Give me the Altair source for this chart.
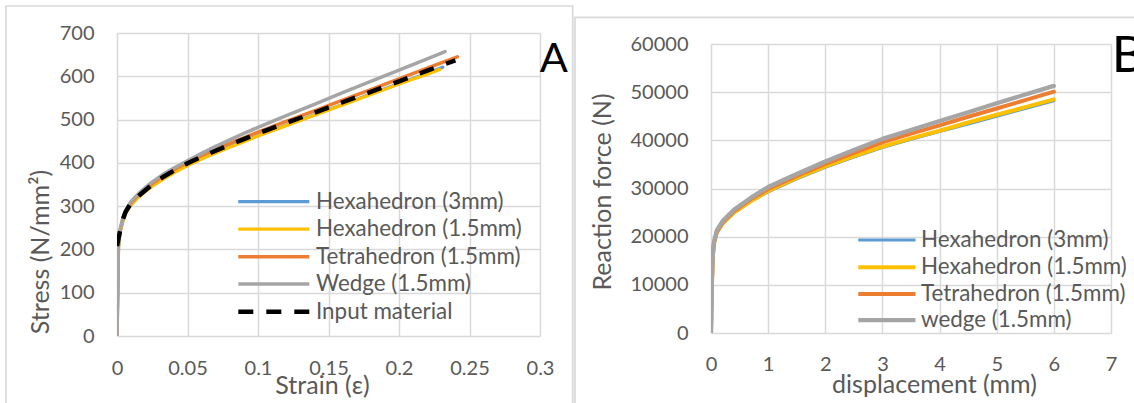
import altair as alt
import pandas as pd

FONT = "Lato"
GREY_TXT = "#595959"
GRID = "#d9d9d9"

# ---------------- Panel A: stress-strain curves ----------------
strain_hex3 = [0, 0.001, 0.002, 0.004, 0.006, 0.0095, 0.014, 0.018, 0.025, 0.033, 0.042, 0.05,
               0.06, 0.07, 0.08, 0.09, 0.1, 0.12, 0.14, 0.16, 0.18, 0.2, 0.22, 0.231]
stress_hex3 = [0, 206, 238, 265, 283, 302, 318, 329, 347, 364, 381, 395,
               410, 424, 437, 450, 463, 487, 511, 535, 559, 583, 607, 621]

strain_hex15 = [0, 0.001, 0.002, 0.004, 0.006, 0.0095, 0.014, 0.018, 0.025, 0.033, 0.042, 0.05,
                0.06, 0.07, 0.08, 0.09, 0.1, 0.12, 0.14, 0.16, 0.18, 0.2, 0.22, 0.229]
stress_hex15 = [0, 205, 237, 264, 282, 301, 317, 328, 346, 363, 380, 394,
                409, 423, 436, 449, 462, 486, 510, 534, 558, 582, 605, 616]

strain_tet15 = [0, 0.001, 0.002, 0.004, 0.006, 0.0095, 0.014, 0.018, 0.025, 0.033, 0.042, 0.05,
                0.06, 0.07, 0.08, 0.09, 0.1, 0.12, 0.14, 0.16, 0.18, 0.2, 0.22, 0.2414]
stress_tet15 = [0, 207, 241, 269, 287, 306, 322, 333, 352, 370, 387, 401,
                417, 431, 445, 458, 471, 496, 520, 545, 569, 594, 619, 645]

strain_wedge = [0, 0.001, 0.002, 0.004, 0.006, 0.0095, 0.014, 0.018, 0.025, 0.033, 0.042, 0.05,
                0.06, 0.07, 0.08, 0.09, 0.1, 0.12, 0.14, 0.16, 0.18, 0.2, 0.22, 0.2327]
stress_wedge = [0, 208, 243, 271, 289, 309, 325, 337, 356, 374, 391, 405,
                422, 438, 453, 468, 482, 509, 535, 562, 588, 614, 640, 657]

strain_input = [0, 0.002, 0.004, 0.006, 0.0095, 0.014, 0.018, 0.025, 0.033, 0.042, 0.05,
                0.06, 0.07, 0.08, 0.09, 0.1, 0.12, 0.14, 0.16, 0.18, 0.2, 0.22, 0.24]
stress_input = [208, 240, 268, 286, 305, 320, 331, 350, 368, 385, 399,
                414, 428, 442, 455, 468, 492, 516, 540, 564, 588, 613, 637]

names_a = ["Hexahedron (3mm)", "Hexahedron (1.5mm)", "Tetrahedron (1.5mm)",
           "Wedge (1.5mm)", "Input material"]
colors_a = ["#5B9BD5", "#FFC000", "#ED7D31", "#A5A5A5", "#000000"]
widths_a = [3.25, 3.25, 3.5, 3.5, 4.5]
dashes_a = [None, None, None, None, [15, 13]]
xs_a = [strain_hex3, strain_hex15, strain_tet15, strain_wedge, strain_input]
ys_a = [stress_hex3, stress_hex15, stress_tet15, stress_wedge, stress_input]

xticks_a = [0, 0.05, 0.1, 0.15, 0.2, 0.25, 0.3]
yticks_a = [0, 100, 200, 300, 400, 500, 600, 700]

# ---------------- Panel B: force-displacement curves ----------------
disp = [0, 0.015, 0.03, 0.05, 0.1, 0.2, 0.4, 0.7, 1.0, 1.5, 2.0, 2.5, 3.0, 3.5, 4.0, 4.5, 5.0, 5.5, 6.0]
force_hex3 = [0, 10000, 15500, 18300, 20700, 22600, 24900, 27300, 29300, 32000, 34400,
              36500, 38500, 40200, 41800, 43400, 45000, 46600, 48200]
force_hex15 = [0, 10100, 15600, 18400, 20800, 22700, 25000, 27400, 29500, 32200, 34600,
               36700, 38700, 40400, 42000, 43700, 45300, 46900, 48500]
force_tet15 = [0, 10200, 15800, 18600, 21000, 22900, 25300, 27800, 29900, 32600, 35100,
               37400, 39600, 41400, 43100, 44900, 46600, 48350, 50100]
force_wedge = [0, 10300, 16000, 18800, 21300, 23200, 25600, 28100, 30300, 33000, 35600,
               38000, 40300, 42150, 44000, 45850, 47700, 49500, 51300]

names_b = ["Hexahedron (3mm)", "Hexahedron (1.5mm)", "Tetrahedron (1.5mm)", "wedge (1.5mm)"]
colors_b = ["#5B9BD5", "#FFC000", "#ED7D31", "#A5A5A5"]
widths_b = [3.0, 4.0, 4.0, 4.25]
ys_b = [force_hex3, force_hex15, force_tet15, force_wedge]

xticks_b = [0, 1, 2, 3, 4, 5, 6, 7]
yticks_b = [0, 10000, 20000, 30000, 40000, 50000, 60000]

LEGEND_SIZE = 22.4
TITLE_SIZE = 25


def series_layer(x, y, color, width, dash, xenc, yenc):
    df = pd.DataFrame({"x": x, "y": y})
    kw = dict(color=color, strokeWidth=width, clip=True)
    if dash:
        kw.update(strokeDash=dash, strokeCap="butt")
    else:
        kw.update(strokeCap="round", strokeJoin="round")
    return alt.Chart(df).mark_line(**kw).encode(x=xenc, y=yenc)


def legend_layers(names, colors, widths, dashes, x0, x1, xt, rows):
    out = []
    for n, c, w, d, ry in zip(names, colors, widths, dashes, rows):
        one = alt.Chart(pd.DataFrame({"name": [n]}))
        kw = dict(color=c, strokeWidth=w)
        if d:
            kw.update(strokeDash=d, strokeCap="butt")
        out.append(one.mark_rule(**kw).encode(
            x=alt.value(x0), x2=alt.value(x1), y=alt.value(ry)))
        out.append(one.mark_text(align="left", baseline="middle", font=FONT,
                                 fontSize=LEGEND_SIZE, color=GREY_TXT).encode(
            x=alt.value(xt), y=alt.value(ry), text="name:N"))
    return out


def frame(x0, x1, y0, y1):
    return alt.Chart(pd.DataFrame({"f": [0]})).mark_rect(
        fillOpacity=0, stroke=GRID, strokeWidth=1.7).encode(
        x=alt.value(x0), x2=alt.value(x1), y=alt.value(y0), y2=alt.value(y1))


def corner_label(txt, x, y, size, align):
    return alt.Chart(pd.DataFrame({"t": [txt]})).mark_text(
        font=FONT, fontSize=size, color="black", align=align, baseline="alphabetic").encode(
        x=alt.value(x), y=alt.value(y), text="t:N")


# ---- panel A ----
xa = alt.X("x:Q", scale=alt.Scale(domain=[0, 0.3], nice=False),
           axis=alt.Axis(values=xticks_a, format="~g", title="Strain (ε)",
                         labelPadding=22, titleX=205, titleY=57.5,
                         titleBaseline="alphabetic", titleAlign="center"))
ya = alt.Y("y:Q", scale=alt.Scale(domain=[0, 700], nice=False),
           axis=alt.Axis(values=yticks_a, format="d", title="Stress (N/mm²)",
                         labelPadding=23, titleX=-68.5, titleY=218.5,
                         titleBaseline="alphabetic", titleAlign="center", titleAngle=270))

layers_a = [frame(-111, 455.7, -27, 420)]
for x, y, c, w, d in zip(xs_a, ys_a, colors_a, widths_a, dashes_a):
    layers_a.append(series_layer(x, y, c, w, d, xa, ya))
layers_a += legend_layers(names_a, colors_a, widths_a, dashes_a, 121.3, 192.3, 199,
                          [168.7, 196, 223.7, 251, 278.7])
layers_a.append(corner_label("A", 436.8, 39.3, 41.5, "center"))
panel_a = alt.layer(*layers_a).properties(width=423, height=303)

# ---- panel B ----
xb = alt.X("x:Q", scale=alt.Scale(domain=[0, 7], nice=False),
           axis=alt.Axis(values=xticks_b, format="d", title="displacement (mm)",
                         labelPadding=21, titleX=223, titleY=59,
                         titleBaseline="alphabetic", titleAlign="center"))
yb = alt.Y("y:Q", scale=alt.Scale(domain=[0, 60000], nice=False),
           axis=alt.Axis(values=yticks_b, format="d", title="Reaction force (N)",
                         labelPadding=23, titleX=-101, titleY=147.5,
                         titleBaseline="alphabetic", titleAlign="center", titleAngle=270))

layers_b = [frame(-136, 500, -26.7, 420)]
for y, c, w in zip(ys_b, colors_b, widths_b):
    layers_b.append(series_layer(disp, y, c, w, None, xb, yb))
layers_b += legend_layers(names_b, colors_b, widths_b, [None] * 4, 147.3, 204.5, 210,
                          [196, 223.3, 250, 276])
layers_b.append(corner_label("B", 400.7, 27.7, 50.7, "left"))
panel_b = alt.layer(*layers_b).properties(width=400, height=289)

# small invisible spacer to drop panel B slightly lower than panel A
spacer = alt.Chart(pd.DataFrame({"v": [0]})).mark_point(opacity=0).encode(
    x=alt.X("v:Q", axis=None), y=alt.Y("v:Q", axis=None)).properties(width=1, height=1)
right = alt.vconcat(spacer, panel_b, spacing=10, bounds="flush")

chart = alt.hconcat(panel_a, right, spacing=171, bounds="flush").properties(
    padding={"left": 117, "top": 33, "right": 1017, "bottom": 370},
    autosize=alt.AutoSizeParams(type="none"),
    background="white",
).configure_view(strokeWidth=0).configure_axis(
    labelFont=FONT, titleFont=FONT, labelFontSize=20, titleFontSize=TITLE_SIZE,
    labelColor=GREY_TXT, titleColor=GREY_TXT, titleFontWeight="normal",
    grid=True, gridColor=GRID, gridWidth=1.5, domain=False, ticks=False, tickSize=0,
    labelFlush=False, labelOverlap=False, labelBaseline="middle",
).configure_axisX(labelBaseline="top")

chart.save("out.html", embed_options={"renderer": "svg", "actions": False})
